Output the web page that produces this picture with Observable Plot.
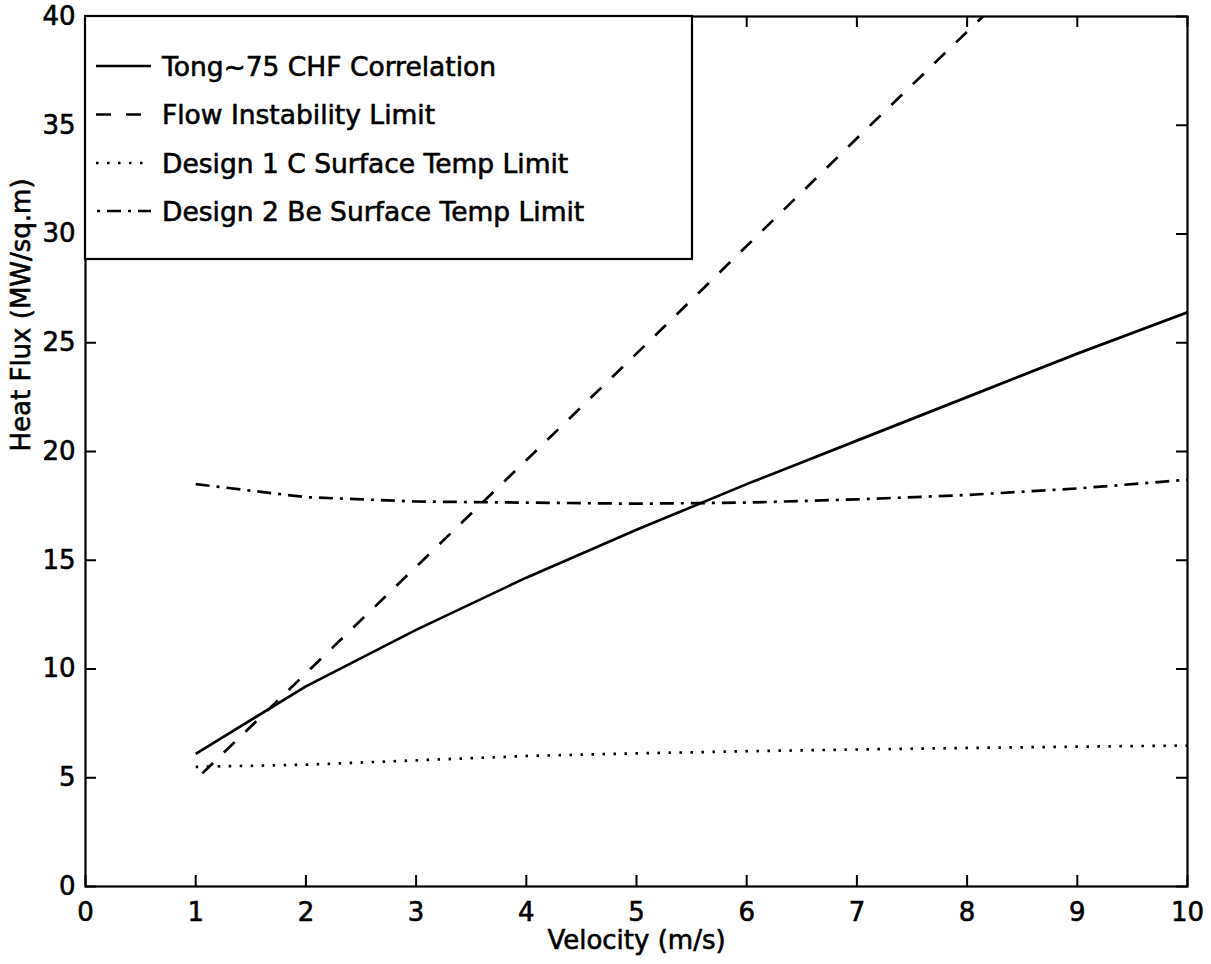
<!DOCTYPE html>
<html>
<head>
<meta charset="utf-8">
<script src="https://cdn.jsdelivr.net/npm/d3@7"></script>
<script src="https://cdn.jsdelivr.net/npm/@observablehq/plot@0.6"></script>
<style>
  html, body { margin: 0; padding: 0; background: #fff; }
  #chart svg { display: block; }
  #chart svg text { stroke: #000; stroke-width: 0.6px; }
</style>
</head>
<body>
<div id="chart"></div>
<script>
// ---- data ----
const seriesNames = [
  "Tong-75 CHF Correlation",
  "Flow Instability Limit",
  "Design 1 C Surface Temp Limit",
  "Design 2 Be Surface Temp Limit"
];
const legendLabels = [
  "Tong~75 CHF Correlation",
  "Flow Instability Limit",
  "Design 1 C Surface Temp Limit",
  "Design 2 Be Surface Temp Limit"
];

const velocity = [1, 2, 3, 4, 5, 6, 7, 8, 9, 10];
const tongCHF = [6.1, 9.2, 11.8, 14.2, 16.4, 18.5, 20.5, 22.5, 24.5, 26.4];

const flowVelocity = [1.06, 2, 3, 4, 5, 5.94, 7, 8, 9, 10];
const flowInstability = [5.2, 9.8, 14.7, 19.6, 24.5, 29.15, 34.4, 39.3, 44.2, 49.1];

const design1C = [5.5, 5.6, 5.8, 6.0, 6.12, 6.22, 6.3, 6.37, 6.43, 6.48];
const design2Be = [18.5, 17.9, 17.7, 17.65, 17.6, 17.65, 17.8, 18.0, 18.3, 18.7];

const xTicks = [0, 1, 2, 3, 4, 5, 6, 7, 8, 9, 10];
const yTicks = [0, 5, 10, 15, 20, 25, 30, 35, 40];

const xLabel = "Velocity (m/s)";
const yLabel = "Heat Flux (MW/sq.m)";

// ---- build table ----
const rows = [
  ...velocity.map((v, i) => ({series: seriesNames[0], x: v, y: tongCHF[i]})),
  ...flowVelocity.map((v, i) => ({series: seriesNames[1], x: v, y: flowInstability[i]})),
  ...velocity.map((v, i) => ({series: seriesNames[2], x: v, y: design1C[i]})),
  ...velocity.map((v, i) => ({series: seriesNames[3], x: v, y: design2Be[i]}))
];

const dashes = {
  [seriesNames[0]]: null,
  [seriesNames[1]]: "15,15",
  [seriesNames[2]]: "2.5,8.5",
  [seriesNames[3]]: "14,7,3,7"
};
const legendDashOffset = [0, 0, 0, 20];

const W = 1211, H = 964;
const M = {top: 16, right: 24, bottom: 78, left: 85};
const plotW = W - M.left - M.right;
const plotH = H - M.top - M.bottom;
const TICK = 11;
const FONT = "DejaVu Sans, Arial, sans-serif";

// legend drawn as a render-function mark (MATLAB-style boxed legend, upper left)
function legendMark(index, scales, values, dims) {
  const g = d3.create("svg:g").attr("text-anchor", "start");
  const x0 = dims.marginLeft, y0 = dims.marginTop;
  const boxW = 607, boxH = 243;
  g.append("rect")
    .attr("x", x0).attr("y", y0).attr("width", boxW).attr("height", boxH)
    .attr("fill", "#fff").attr("stroke", "#000").attr("stroke-width", 2.2);
  const rowY = [50, 98.5, 147, 195];
  legendLabels.forEach((lab, i) => {
    const cy = y0 + rowY[i];
    const dash = dashes[seriesNames[i]];
    g.append("line")
      .attr("x1", x0 + 11).attr("x2", x0 + 66)
      .attr("y1", cy).attr("y2", cy)
      .attr("stroke", "#000").attr("stroke-width", 2.5)
      .attr("stroke-dasharray", dash)
      .attr("stroke-dashoffset", legendDashOffset[i]);
    g.append("text")
      .attr("x", x0 + 77).attr("y", cy)
      .attr("dy", "0.36em")
      .attr("text-anchor", "start")
      .attr("font-family", FONT)
      .attr("font-size", 26.5)
      .attr("fill", "#000")
      .text(lab);
  });
  return g.node();
}

const chart = Plot.plot({
  width: W,
  height: H,
  marginTop: M.top, marginRight: M.right, marginBottom: M.bottom, marginLeft: M.left,
  style: {fontFamily: FONT, background: "#fff", color: "#000", overflow: "visible"},
  x: {domain: [0, 10], ticks: xTicks},
  y: {domain: [0, 40], ticks: yTicks},
  marks: [
    // series lines
    ...seriesNames.map(name =>
      Plot.line(rows.filter(d => d.series === name), {
        x: "x", y: "y",
        stroke: "#000",
        strokeWidth: 2.7,
        strokeDasharray: dashes[name],
        strokeLinecap: "butt",
        clip: true
      })
    ),
    // inward ticks on all four sides
    Plot.tickX(xTicks, {x: d => d, insetTop: plotH - TICK, stroke: "#000", strokeWidth: 2}),
    Plot.tickX(xTicks, {x: d => d, insetBottom: plotH - TICK, stroke: "#000", strokeWidth: 2}),
    Plot.tickY(yTicks, {y: d => d, insetRight: plotW - TICK, stroke: "#000", strokeWidth: 2}),
    Plot.tickY(yTicks, {y: d => d, insetLeft: plotW - TICK, stroke: "#000", strokeWidth: 2}),
    // tick labels
    Plot.axisX({ticks: xTicks, tickSize: 0, tickPadding: 16, fontSize: 26, label: null, tickFormat: d => String(d)}),
    Plot.axisY({ticks: yTicks, tickSize: 0, tickPadding: 10, fontSize: 26, label: null, tickFormat: d => String(d)}),
    // axis titles
    Plot.text([xLabel], {frameAnchor: "bottom", dy: 62, fontSize: 26, fill: "#000"}),
    Plot.text([yLabel], {frameAnchor: "left", dx: -64, rotate: -90, fontSize: 26, fill: "#000"}),
    // frame
    Plot.frame({stroke: "#000", strokeWidth: 2.2}),
    // legend
    legendMark
  ]
});

document.getElementById("chart").appendChild(chart);
</script>
</body>
</html>
